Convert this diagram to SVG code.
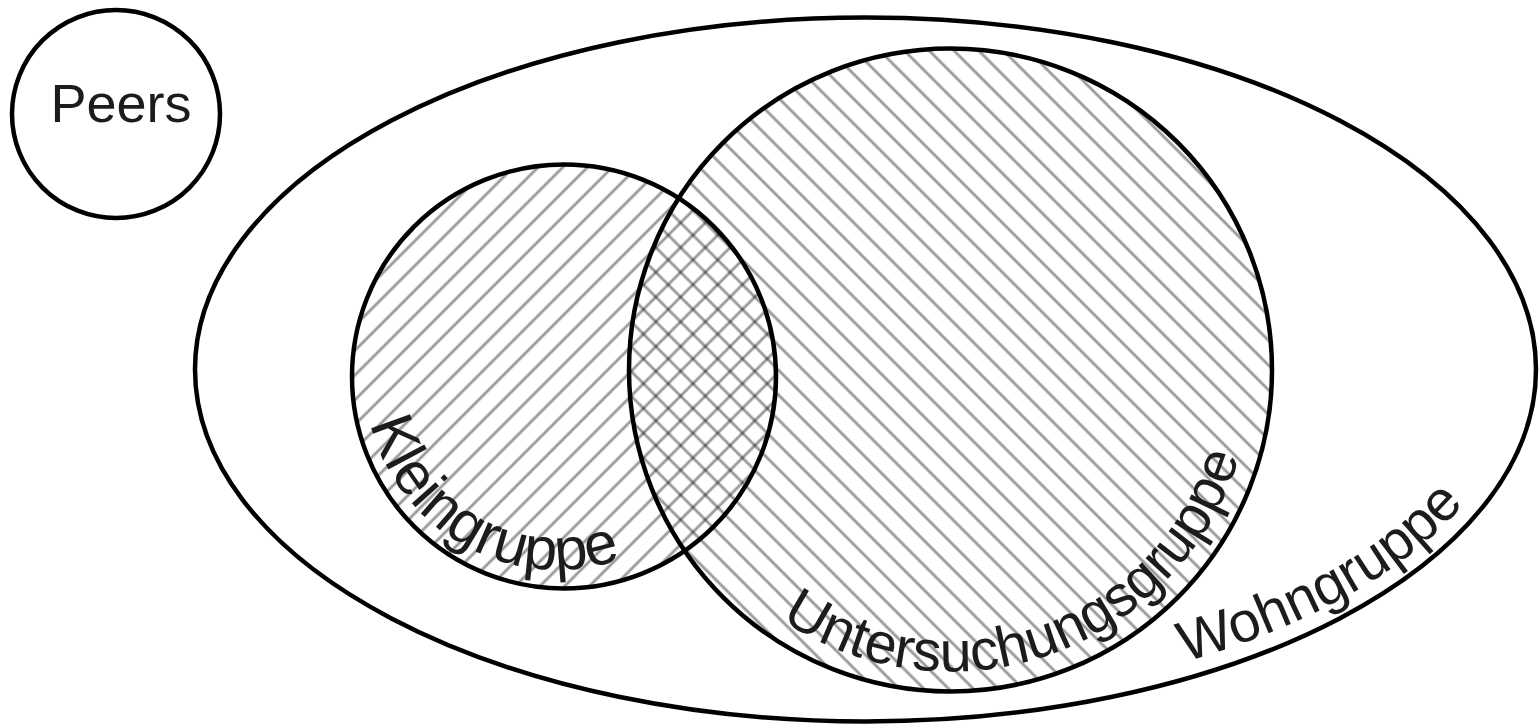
<svg xmlns="http://www.w3.org/2000/svg" width="1540" height="724" viewBox="0 0 1540 724">
  <style>
    .outline { fill: none; stroke: #000; stroke-width: 4.5; }
    .lbl { font-family: "Liberation Sans", Arial, sans-serif; fill: #1c1c1c; }
    .hl { stroke: #000; stroke-opacity: 0.4; stroke-width: 2.8; }
  </style>
  <defs>
    <pattern id="hatchK" patternUnits="userSpaceOnUse" width="20" height="17.5" patternTransform="rotate(-45)">
      <line class="hl" x1="0" y1="8.75" x2="20" y2="8.75"/>
    </pattern>
    <pattern id="hatchU" patternUnits="userSpaceOnUse" width="20" height="17.5" patternTransform="rotate(45)">
      <line class="hl" x1="0" y1="8.75" x2="20" y2="8.75"/>
    </pattern>
    <path id="pK" d="M 370.4 423.6 A 193.4 193.4 0 0 0 739.7 442.6"/>
    <path id="pU" d="M 781 619.4 A 301.5 301.5 0 0 0 1252 370"/>
    <path id="pW" d="M 1184.8 661.8 A 653.5 335 0 0 0 1519 369.5"/>
  </defs>
  <rect width="1540" height="724" fill="#fff"/>

  <g id="wohngruppe">
    <ellipse class="outline" cx="865.5" cy="369.5" rx="670.5" ry="352" stroke-width="4"/>
  </g>

  <g id="kleingruppe-fill">
    <circle cx="564" cy="376.5" r="212" fill="url(#hatchK)"/>
  </g>
  <g id="untersuchungsgruppe-fill">
    <circle cx="950.5" cy="370" r="321.5" fill="url(#hatchU)"/>
  </g>

  <g id="kleingruppe">
    <circle class="outline" cx="564" cy="376.5" r="212"/>
    <text class="lbl" font-size="60"><textPath href="#pK">Kleingruppe</textPath></text>
  </g>
  <g id="untersuchungsgruppe">
    <circle class="outline" cx="950.5" cy="370" r="321.5"/>
    <text class="lbl" font-size="57.5"><textPath href="#pU">Untersuchungsgruppe</textPath></text>
  </g>
  <g id="wohngruppe-label">
    <text class="lbl" font-size="57"><textPath href="#pW">Wohngruppe</textPath></text>
  </g>

  <g id="peers">
    <circle class="outline" cx="116" cy="114" r="104" stroke-width="4"/>
    <text class="lbl" x="121" y="122" font-size="54" text-anchor="middle">Peers</text>
  </g>
</svg>
